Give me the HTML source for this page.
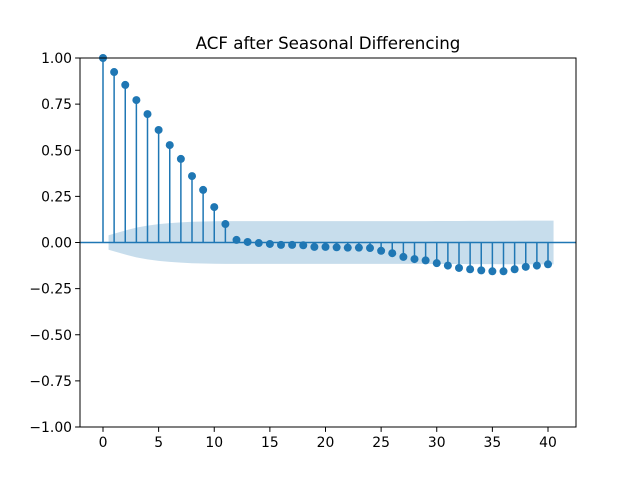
<!DOCTYPE html>
<html><head><meta charset="utf-8">
<style>
body{margin:0;background:#fff;}
svg text{font-family:"DejaVu Sans","Liberation Sans",sans-serif;}
</style></head>
<body>
<svg id="chart" width="640" height="480" xmlns="http://www.w3.org/2000/svg">
<rect width="640" height="480" fill="#fff"/>
<text x="328" y="49" text-anchor="middle" font-size="16.7">ACF after Seasonal Differencing</text>
<g id="band"></g>
<g id="stems"></g>
<g id="axes"></g>
</svg>
<script>
const lags = [0,1,2,3,4,5,6,7,8,9,10,11,12,13,14,15,16,17,18,19,20,21,22,23,24,25,26,27,28,29,30,31,32,33,34,35,36,37,38,39,40];
const acfValues = [1.0,0.924,0.854,0.772,0.696,0.61,0.528,0.453,0.36,0.285,0.192,0.10,0.014,0.003,-0.003,-0.008,-0.013,-0.013,-0.015,-0.024,-0.024,-0.026,-0.028,-0.028,-0.03,-0.045,-0.058,-0.078,-0.09,-0.097,-0.112,-0.125,-0.138,-0.145,-0.151,-0.156,-0.156,-0.145,-0.132,-0.125,-0.118];
const nObs = 2450;
const xTicks = [0,5,10,15,20,25,30,35,40];
const yTicks = [-1.0,-0.75,-0.5,-0.25,0.0,0.25,0.5,0.75,1.0];
const yTickLabels = ["\u22121.00","\u22120.75","\u22120.50","\u22120.25","0.00","0.25","0.50","0.75","1.00"];

const L=80,R=576,T=58,B=427;
const x0=103, xPer=(548-103)/40;
const X=v=>x0+v*xPer;
const Y=v=>B-(v+1)/2*(B-T);
const NS="http://www.w3.org/2000/svg";
function mk(tag,attrs,parent){const e=document.createElementNS(NS,tag);for(const k in attrs)e.setAttribute(k,attrs[k]);parent.appendChild(e);return e;}
const C="#1f77b4";

const band=document.getElementById('band');
let cum=0; const half=[];
for(let k=1;k<lags.length;k++){ half.push(1.96*Math.sqrt((1+2*cum)/nObs)); cum+=acfValues[k]*acfValues[k]; }
const bx=lags.slice(1).map((l,i,a)=> i===0? l-0.5 : (i===a.length-1? l+0.5 : l));
let pts=bx.map((l,i)=>X(l)+','+Y(half[i])).join(' ')+' '+bx.slice().reverse().map((l,i)=>X(l)+','+Y(-half[half.length-1-i])).join(' ');
const poly=mk('polygon',{points:pts,fill:C,'fill-opacity':0.25,stroke:'none'},band);



const stems=document.getElementById('stems');
const zl=mk('line',{x1:L,x2:R,y1:Y(0),y2:Y(0),stroke:C,'stroke-width':1.5},stems);


lags.forEach((l,i)=>{
  const s=mk('line',{x1:X(l),x2:X(l),y1:Y(0),y2:Y(acfValues[i]),stroke:C,'stroke-width':1.5},stems);
  
  
  const c=mk('circle',{cx:X(l),cy:Y(acfValues[i]),r:4,fill:C},stems);
  
  
});

const ax=document.getElementById('axes');
const fr=mk('rect',{x:L,y:T,width:R-L,height:B-T,fill:'none',stroke:'#000','stroke-width':1},ax);


xTicks.forEach(t=>{
  mk('line',{x1:X(t),x2:X(t),y1:B,y2:B+4.9,stroke:'#000','stroke-width':1},ax);
  const tx=mk('text',{x:X(t),y:B+20,'text-anchor':'middle','font-size':13.9},ax);
  tx.textContent=t;
  
  
});
yTicks.forEach((t,i)=>{
  mk('line',{x1:L-4.9,x2:L,y1:Y(t),y2:Y(t),stroke:'#000','stroke-width':1},ax);
  const tx=mk('text',{x:L-8,y:Y(t)+5,'text-anchor':'end','font-size':13.9},ax);
  tx.textContent=yTickLabels[i];
  
  
});
</script>
</body></html>
